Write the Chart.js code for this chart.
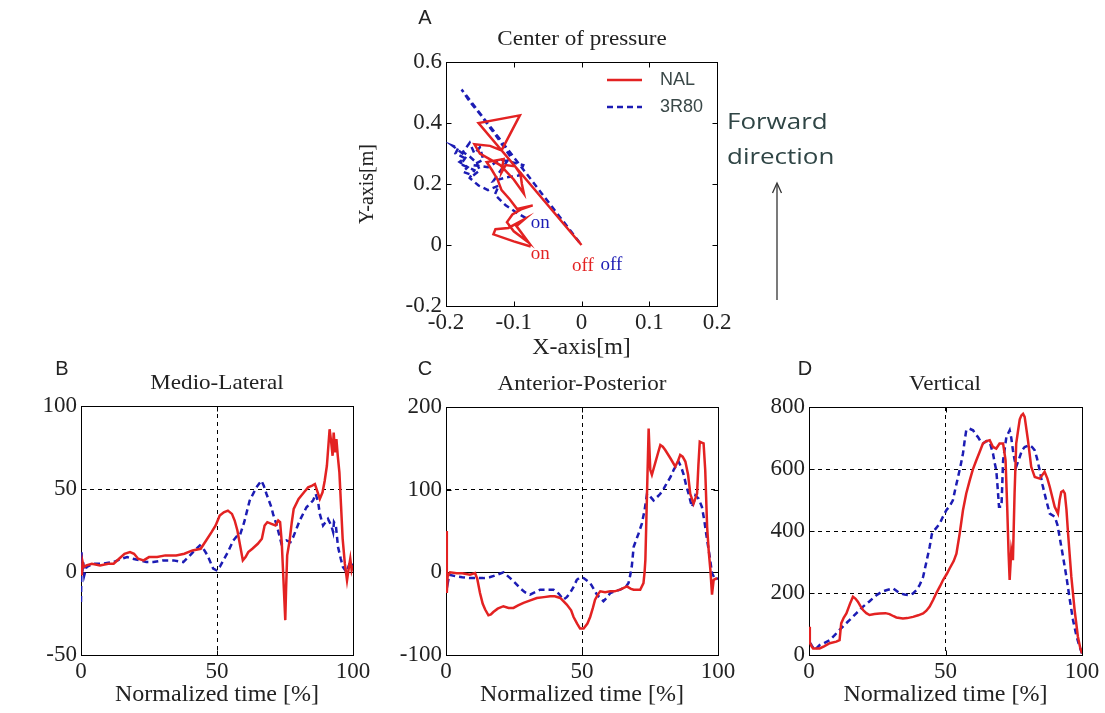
<!DOCTYPE html>
<html><head><meta charset="utf-8">
<script src="https://cdn.jsdelivr.net/npm/chart.js@4.4.1/dist/chart.umd.min.js"></script>
<style>
html,body{margin:0;padding:0;background:#fff;width:1105px;height:713px;overflow:hidden;position:relative;}
canvas{position:absolute;}
.t{position:absolute;white-space:nowrap;font-family:"Liberation Serif","Times New Roman",serif;font-size:21px;color:#222;transform:translate(-50%,-50%) scaleX(1.1);}
.l{position:absolute;white-space:nowrap;font-family:"Liberation Sans",Arial,sans-serif;font-size:20px;color:#222;transform:translate(-50%,-50%);}
.f{position:absolute;white-space:nowrap;font-family:"Open Sans","Noto Sans",sans-serif;font-size:22px;color:#2f4545;transform-origin:0 50%;transform:translate(0,-50%) scaleX(1.18);}
</style></head><body>
<canvas id="cA" width="400" height="362" style="left:340px;top:0px"></canvas>
<canvas id="cB" width="375" height="353" style="left:0px;top:360px"></canvas>
<canvas id="cC" width="375" height="353" style="left:370px;top:360px"></canvas>
<canvas id="cD" width="365" height="353" style="left:740px;top:360px"></canvas>

<div class="l" style="left:425px;top:17px">A</div>
<div class="l" style="left:62px;top:368px">B</div>
<div class="l" style="left:425px;top:368px">C</div>
<div class="l" style="left:805px;top:368px">D</div>
<div class="t" style="left:582px;top:38px">Center of pressure</div>
<div class="t" style="left:217px;top:382px">Medio-Lateral</div>
<div class="t" style="left:582px;top:383px">Anterior-Posterior</div>
<div class="t" style="left:945px;top:383px">Vertical</div>
<div class="f" style="left:727px;top:120px">Forward</div>
<div class="f" style="left:727px;top:155px">direction</div>
<svg style="position:absolute;left:769px;top:178px" width="16" height="124">
  <line x1="8" y1="122" x2="8" y2="6" stroke="#333" stroke-width="1.3"/>
  <polyline points="3.5,15 8,5 12.5,15" fill="none" stroke="#333" stroke-width="1.3"/>
</svg>

<script>
// ---------------- DATA ----------------
const seriesNames = ['NAL', '3R80'];

// A: centre of pressure path [m]
const copNALx = [-0.075,-0.100,-0.130,-0.127,-0.108,-0.084,-0.096,-0.078,-0.100,-0.110,-0.102,-0.088,-0.072,-0.095,-0.106,-0.118,-0.124,-0.132,-0.140,-0.115,-0.118,-0.112,-0.098,-0.090,-0.088,-0.085,-0.100,-0.120,-0.150,-0.158,-0.135,-0.118,-0.091,-0.152,0.000];
const copNALy = [-0.005,0.012,0.035,0.052,0.056,0.085,0.062,0.008,0.045,0.075,0.100,0.118,0.130,0.118,0.150,0.180,0.215,0.245,0.272,0.282,0.238,0.262,0.258,0.232,0.200,0.168,0.215,0.262,0.300,0.330,0.325,0.310,0.425,0.400,0.000];
const cop3R80x = [-0.082,-0.095,-0.112,-0.128,-0.122,-0.138,-0.152,-0.165,-0.158,-0.178,-0.170,-0.190,-0.182,-0.186,-0.172,-0.180,-0.168,-0.175,-0.160,-0.150,-0.155,-0.165,-0.175,-0.165,-0.158,-0.150,-0.145,-0.160,-0.138,-0.120,-0.100,-0.086,-0.092,-0.110,-0.130,-0.105,-0.125,-0.150,-0.165,-0.177,0.000];
const cop3R80y = [0.088,0.105,0.130,0.165,0.195,0.180,0.195,0.220,0.245,0.265,0.290,0.325,0.318,0.300,0.285,0.272,0.255,0.240,0.228,0.245,0.270,0.290,0.305,0.335,0.300,0.320,0.280,0.262,0.255,0.280,0.270,0.262,0.228,0.222,0.210,0.290,0.355,0.430,0.470,0.510,0.000];
const copMarkText  = ['on','on','off','off'];
const copMarkX     = [-0.061,-0.061,0.002,0.044];
const copMarkY     = [-0.030,0.072,-0.069,-0.066];
const copMarkSeries= [0,1,0,1];
const aXTicks = [-0.2,-0.1,0,0.1,0.2];
const aXLabels = ['-0.2','-0.1','0','0.1','0.2'];
const aYTicks = [-0.2,0,0.2,0.4,0.6];
const aYLabels = ['-0.2','0','0.2','0.4','0.6'];

// common time axis ticks
const timeTicks = [0,50,100];
const timeLabels = ['0','50','100'];

// B: Medio-Lateral
const mlNALx = [0,0.3,0.6,1,2,4,7,10,12,14,16,18,19.5,21,23,25,28,31,35,38,41,44,46,48,49.5,51,52.5,54,55.5,56.5,57.5,58.5,59.5,60.5,61.5,63,65,66.5,67.5,68.5,70,71.5,72.5,73.2,73.8,74.3,74.8,75.1,75.4,75.8,76.7,77.5,78.2,80,82,83.5,85,86,86.8,87.8,88.8,89.6,90.4,90.9,91.4,92,92.5,92.9,93.4,93.9,94.4,95,95.6,96.2,97,97.8,98.5,99,99.5,100];
const mlNALy = [2,-2,6,3,4,5,4,5,5,8,11,12,11,8,7,9,9,10,10,11,13,14,19,24,28,34,36,37,35,31,25,16,7,9,12,14,17,20,28,30,29,28,31,30,18,0,-18,-29,-10,10,19,30,38,44,48,51,52,53,49,44,48,55,64,75,86,78,70,84,72,80,70,60,40,20,5,-5,3,8,1,4];
const ml3R80x = [0,0.2,0.5,0.8,1.2,2,4.5,8,12,15,17,19,21.7,24,26.6,30,34,37.6,39.5,41.2,43.7,45,46.5,48.6,49.8,51,52.3,54,56,57.5,58.4,60,62,64.5,66.3,67.2,68.2,70,70.6,72,73.7,75.5,77,78,80.4,82.9,85.3,86.3,87.2,87.8,89,90.8,92,92.7,93,93.7,94.5,95.5,96.3,97.6,98.5,99.4,100];
const ml3R80y = [-18,12,0,6,-2,3,5,5,6,8,9,8,7,6,6,7,7,6,9,12,16,14,10,2,1,3,7,12,19,22,22,30,43,51,55,52,47,39,35,28,17,19,18,21,31,39,43,47,42,35,28,32,28,24,30,28,15,8,3,0,4,2,5];
const bYTicks = [-50,0,50,100];
const bYLabels = ['-50','0','50','100'];

// C: Anterior-Posterior
const apNALx = [0,0.3,0.6,1.5,3.9,6,8.8,10.7,11.5,12.5,13.5,14.4,15.6,16.5,17.4,19,21.1,23,24.8,26.5,28.5,31,33.4,36,38.3,40,42,44.4,46,46.9,48.2,49.3,50.6,52,53,54,54.8,56,56.7,58.5,60.4,62,64,66.5,68,69,71.4,72.6,73,73.3,73.9,74.5,75.1,75.7,76.3,76.9,78,78.8,79.7,80.6,82.5,84.3,85.2,86.1,87,88,89,89.8,91,92.3,92.8,93.3,94,94.7,95.3,96,96.6,97.2,97.8,98.4,99.6];
const apNALy = [50,-25,-5,0,-1,-1,-3,-1,-8,-25,-38,-45,-52,-51,-48,-44,-41,-43,-43,-40,-37,-34,-31,-30,-29,-29,-31,-39,-46,-54,-62,-68,-68,-62,-54,-43,-33,-26,-23,-24,-23,-23,-21,-17,-20,-21,-21,-13,0,15,95,174,124,118,125,132,145,154,152,148,138,128,134,142,140,134,118,95,83,95,130,158,157,156,124,55,25,3,-27,-9,-7];
const ap3R80x = [0,0.3,0.7,1.2,3.9,6,8.8,13.7,16,18.7,21.1,23.6,25.5,27.2,29,30.9,32.8,34.6,37,39.5,41.5,43.2,44.4,45.6,47,48.1,49.4,50.6,53,54.3,55.5,57.9,59,60.4,62,64,66,67.1,67.7,68.3,69,70.8,72,73,73.9,75,76.3,77.6,78.8,80,81.2,82.5,83.7,85.5,86.5,87.4,88.3,89.2,90.4,91.1,91.7,92.3,92.9,94.1,95,96,97,97.8,99,100];
const ap3R80y = [-25,-5,-12,-3,-5,-6,-7,-7,-6,-3,0,-7,-13,-19,-24,-27,-24,-21,-21,-21,-26,-33,-30,-25,-17,-9,-6,-7,-13,-20,-27,-35,-31,-25,-23,-21,-18,-13,-4,7,31,47,59,75,95,92,87,91,95,101,108,115,124,134,127,118,105,95,79,85,93,91,89,79,62,39,18,-1,-9,-7];
const cYTicks = [-100,0,100,200];
const cYLabels = ['-100','0','100','200'];

// D: Vertical
const vNALx = [0,0.3,1,1.5,3.9,5.5,7.6,10,11.2,11.8,12.7,13.7,15,16.1,17,17.9,19,19.8,21,22.2,24,25.9,28,29.5,31,32,34.4,36,38.1,40,41.8,43,44.2,45.5,46.6,48,49.1,50.5,51.5,53,54,55.2,56.4,57.6,58.9,60,61.3,62.5,63.7,65,66.2,67.4,68.6,69.8,71.1,72,72.6,73.1,73.5,74.1,74.7,75.3,75.9,76.6,77.2,77.8,78.4,79,80.2,81.4,82.7,84.5,86.3,87.3,88.2,90,91.2,91.8,92.4,93.1,93.7,94.3,94.9,96.1,97.3,98.5,99.3,100];
const vNALy = [91,40,27,21,21,28,38,43,48,102,120,134,165,188,182,172,155,145,135,129,132,134,135,132,125,121,118,119,123,128,134,143,156,178,199,222,242,262,279,303,327,392,467,521,564,598,628,655,682,690,693,671,666,682,682,628,478,330,242,338,306,521,682,725,760,773,778,768,693,607,574,569,591,570,542,478,456,500,526,530,521,470,392,252,145,59,25,5];
const v3R80x = [0,0.4,1,2.1,3.9,5.5,7.6,9.5,11.2,13,14.9,17.5,19.8,22,24.7,26.5,28.3,30.8,32,33.2,35,36.9,38,39.3,40.5,41.8,43,44.2,45,46,47.9,49,50.3,51.5,52.7,53.7,54.6,55.5,56.4,57,57.6,58.8,60.1,61,61.9,62.8,63.7,65,66.2,67.4,68,68.6,69.1,69.6,70.5,71.1,72.3,73.5,74.1,74.7,75.3,75.9,77.2,78,79,80.8,81.8,82.7,83.5,84.5,85.5,86.9,88.2,90,91,91.8,93,94.3,95.5,96.7,98,99,100];
const v3R80y = [70,40,30,16,32,38,48,65,81,97,113,136,156,172,193,203,209,215,207,199,195,193,198,209,225,252,300,349,390,403,424,445,467,480,499,540,574,610,650,690,725,730,725,712,703,690,682,690,687,650,620,596,540,478,478,628,703,725,700,660,630,607,639,660,671,677,670,660,635,596,550,499,456,446,420,381,320,252,180,113,60,30,5];
const dYTicks = [0,200,400,600,800];
const dYLabels = ['0','200','400','600','800'];

// ---------------- STYLE / HELPERS ----------------
const RED = '#e32222';
const BLUE = '#1c1cb4';
const SERIF = '"Liberation Serif","Times New Roman",serif';
const pts = (xs, ys) => xs.map((x, i) => ({x, y: ys[i]}));

function ds(label, xs, ys, idx) {
  return {
    label, data: pts(xs, ys), showLine: true, pointRadius: 0, tension: 0,
    borderColor: idx === 0 ? RED : BLUE, backgroundColor: idx === 0 ? RED : BLUE,
    borderWidth: 2.5, borderDash: idx === 0 ? [] : [6, 4]
  };
}

const framePlugin = {
  id: 'frame',
  beforeDatasetsDraw(chart) {
    const {ctx, chartArea: a, scales: {x, y}} = chart;
    const L = Math.round(a.left) + 0.5, R = Math.round(a.right) + 0.5;
    const T = Math.round(a.top) + 0.5, B = Math.round(a.bottom) + 0.5;
    ctx.save();
    ctx.strokeStyle = '#000'; ctx.lineWidth = 1; ctx.setLineDash([]);
    ctx.strokeRect(L, T, R - L, B - T);
    ctx.beginPath();
    x.ticks.forEach(t => {
      const p = Math.round(x.getPixelForValue(t.value)) + 0.5;
      ctx.moveTo(p, B); ctx.lineTo(p, B - 5);
      ctx.moveTo(p, T); ctx.lineTo(p, T + 5);
    });
    y.ticks.forEach(t => {
      const p = Math.round(y.getPixelForValue(t.value)) + 0.5;
      ctx.moveTo(L, p); ctx.lineTo(L + 5, p);
      ctx.moveTo(R, p); ctx.lineTo(R - 5, p);
    });
    ctx.stroke();
    ctx.restore();
  }
};

function makeChart(id, o) {
  return new Chart(document.getElementById(id), {
    type: 'scatter',
    data: {datasets: o.datasets},
    options: {
      responsive: false, animation: false, devicePixelRatio: 1,
      layout: {padding: {left: 0, top: o.padTop, right: o.padRight, bottom: 0}},
      plugins: {legend: {display: false}, tooltip: {enabled: false}},
      scales: {
        x: {
          type: 'linear', min: o.xTicks[0], max: o.xTicks[o.xTicks.length - 1],
          afterBuildTicks: s => { s.ticks = o.xTicks.map(v => ({value: v})); },
          afterFit: s => { s.height = o.axisH; },
          ticks: {padding: 3, color: '#222', font: {family: SERIF, size: 23},
                  callback: (v, i) => o.xLabels[i], maxRotation: 0, autoSkip: false},
          grid: {display: o.grid, color: '#000', lineWidth: 1, drawTicks: false},
          border: {display: true, color: '#000', width: 1, dash: [4, 4]},
          title: {display: true, text: o.xTitle, color: '#222',
                  font: {family: SERIF, size: 24}, padding: {top: 0, bottom: o.xTitlePad}}
        },
        y: {
          type: 'linear', min: o.yTicks[0], max: o.yTicks[o.yTicks.length - 1],
          afterBuildTicks: s => { s.ticks = o.yTicks.map(v => ({value: v})); },
          afterFit: s => { s.width = o.axisW; },
          ticks: {padding: 4, color: '#222', font: {family: SERIF, size: 23},
                  callback: (v, i) => o.yLabels[i], autoSkip: false},
          grid: {display: o.grid, color: '#000', lineWidth: 1, drawTicks: false},
          border: {display: true, color: '#000', width: 1,
                   dash: c => (c.tick && c.tick.value === 0 && o.zeroSolid) ? [] : [4, 4]},
          title: o.yTitle ? {display: true, text: o.yTitle, color: '#222',
                  font: {family: SERIF, size: 20}, padding: {top: 16, bottom: 0}} : {display: false}
        }
      }
    },
    plugins: [framePlugin].concat(o.extra || [])
  });
}

// legend + on/off marks for panel A
const copExtras = {
  id: 'copExtras',
  afterDatasetsDraw(chart) {
    const {ctx, chartArea: a, scales: {x, y}} = chart;
    const sets = chart.data.datasets;
    ctx.save();
    ctx.font = '19px ' + SERIF;
    ctx.textAlign = 'center'; ctx.textBaseline = 'middle';
    copMarkText.forEach((t, i) => {
      ctx.fillStyle = sets[copMarkSeries[i]].borderColor;
      ctx.fillText(t, x.getPixelForValue(copMarkX[i]), y.getPixelForValue(copMarkY[i]));
    });
    ctx.font = '18px "Liberation Sans", Arial, sans-serif';
    ctx.textAlign = 'left';
    sets.forEach((d, i) => {
      const yy = a.top + 18 + i * 27;
      ctx.strokeStyle = d.borderColor; ctx.lineWidth = 2.5;
      ctx.setLineDash(d.borderDash);
      ctx.beginPath(); ctx.moveTo(a.right - 110, yy); ctx.lineTo(a.right - 75, yy); ctx.stroke();
      ctx.setLineDash([]);
      ctx.fillStyle = '#3a4848';
      ctx.fillText(d.label, a.right - 57, yy);
    });
    ctx.restore();
  }
};

makeChart('cA', {
  datasets: [ds(seriesNames[0], copNALx, copNALy, 0), ds(seriesNames[1], cop3R80x, cop3R80y, 1)],
  xTicks: aXTicks, xLabels: aXLabels, yTicks: aYTicks, yLabels: aYLabels,
  padTop: 62, padRight: 23, axisW: 106, axisH: 56, xTitlePad: 0,
  grid: false, zeroSolid: false, xTitle: 'X-axis[m]', yTitle: 'Y-axis[m]', extra: [copExtras]
});
makeChart('cB', {
  datasets: [ds(seriesNames[0], mlNALx, mlNALy, 0), ds(seriesNames[1], ml3R80x, ml3R80y, 1)],
  xTicks: timeTicks, xLabels: timeLabels, yTicks: bYTicks, yLabels: bYLabels,
  padTop: 46, padRight: 22, axisW: 81, axisH: 58, xTitlePad: 4,
  grid: true, zeroSolid: true, xTitle: 'Normalized time [%]'
});
makeChart('cC', {
  datasets: [ds(seriesNames[0], apNALx, apNALy, 0), ds(seriesNames[1], ap3R80x, ap3R80y, 1)],
  xTicks: timeTicks, xLabels: timeLabels, yTicks: cYTicks, yLabels: cYLabels,
  padTop: 47, padRight: 27, axisW: 76, axisH: 58, xTitlePad: 4,
  grid: true, zeroSolid: true, xTitle: 'Normalized time [%]'
});
makeChart('cD', {
  datasets: [ds(seriesNames[0], vNALx, vNALy, 0), ds(seriesNames[1], v3R80x, v3R80y, 1)],
  xTicks: timeTicks, xLabels: timeLabels, yTicks: dYTicks, yLabels: dYLabels,
  padTop: 47, padRight: 23, axisW: 69, axisH: 58, xTitlePad: 4,
  grid: true, zeroSolid: false, xTitle: 'Normalized time [%]'
});
</script>
</body></html>
